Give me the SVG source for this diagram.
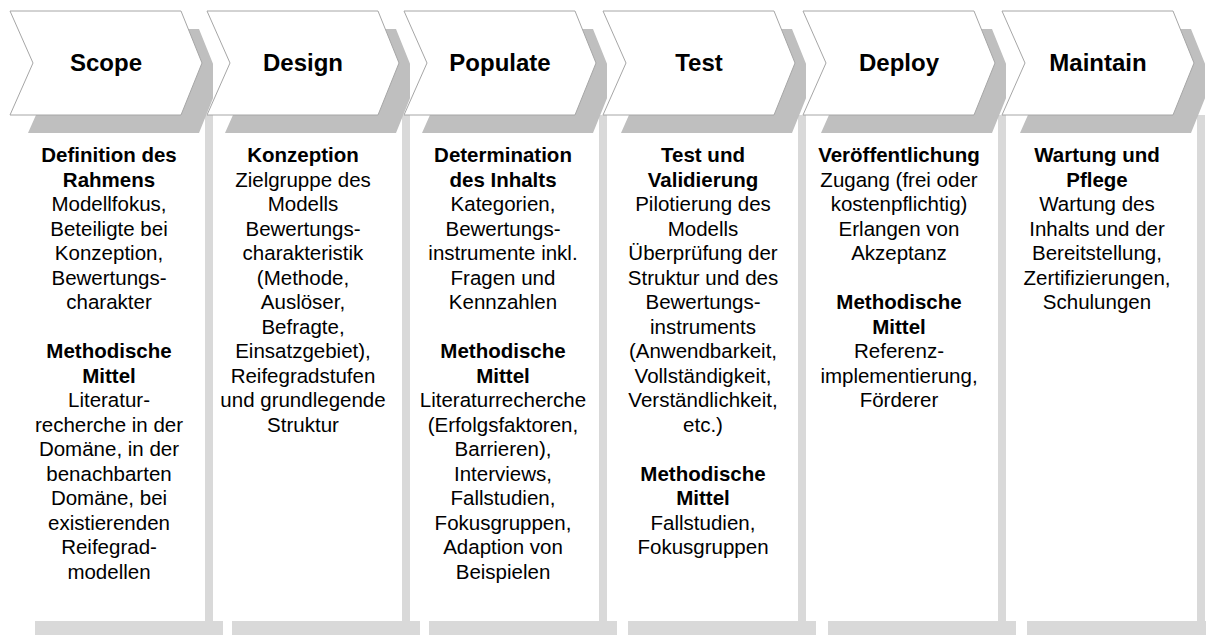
<svg xmlns="http://www.w3.org/2000/svg" width="1206" height="635" viewBox="0 0 1206 635">
<style>
.bar{fill:#d9d9d9}
.sh{fill:#bfbfbf}
.chev{fill:#ffffff;stroke:#a6a6a6;stroke-width:1}
.hd{font-family:"Liberation Sans",Arial,sans-serif;font-weight:bold;font-size:24px;fill:#000;text-anchor:middle}
.bd{font-family:"Liberation Sans",Arial,sans-serif;font-size:20.5px;fill:#000;text-anchor:middle}
.b{font-weight:bold}
</style>
<defs>
<g id="col">
<rect class="bar" x="195" y="115" width="8" height="506"/>
<rect class="bar" x="25" y="621" width="188" height="14"/>
<polygon class="sh" points="18,29 189,29 203,63.7 203,98.3 189,133 18,133 41,81"/>
<polygon class="chev" points="0,11 171,11 192,63 171,115 0,115 23,63"/>
</g>
</defs>
<g id="connectors"></g>
<g id="scope">
<use href="#col" x="10"/>
<text class="hd" x="106" y="71">Scope</text>
<text class="bd" x="109" y="162"><tspan class="b" x="109">Definition des</tspan><tspan class="b" x="109" dy="24.5">Rahmens</tspan><tspan x="109" dy="24.5">Modellfokus,</tspan><tspan x="109" dy="24.5">Beteiligte bei</tspan><tspan x="109" dy="24.5">Konzeption,</tspan><tspan x="109" dy="24.5">Bewertungs-</tspan><tspan x="109" dy="24.5">charakter</tspan><tspan class="b" x="109" dy="49">Methodische</tspan><tspan class="b" x="109" dy="24.5">Mittel</tspan><tspan x="109" dy="24.5">Literatur-</tspan><tspan x="109" dy="24.5">recherche in der</tspan><tspan x="109" dy="24.5">Domäne, in der</tspan><tspan x="109" dy="24.5">benachbarten</tspan><tspan x="109" dy="24.5">Domäne, bei</tspan><tspan x="109" dy="24.5">existierenden</tspan><tspan x="109" dy="24.5">Reifegrad-</tspan><tspan x="109" dy="24.5">modellen</tspan></text>
</g>
<g id="design">
<use href="#col" x="207"/>
<text class="hd" x="303" y="71">Design</text>
<text class="bd" x="303" y="162"><tspan class="b" x="303">Konzeption</tspan><tspan x="303" dy="24.5">Zielgruppe des</tspan><tspan x="303" dy="24.5">Modells</tspan><tspan x="303" dy="24.5">Bewertungs-</tspan><tspan x="303" dy="24.5">charakteristik</tspan><tspan x="303" dy="24.5">(Methode,</tspan><tspan x="303" dy="24.5">Auslöser,</tspan><tspan x="303" dy="24.5">Befragte,</tspan><tspan x="303" dy="24.5">Einsatzgebiet),</tspan><tspan x="303" dy="24.5">Reifegradstufen</tspan><tspan x="303" dy="24.5">und grundlegende</tspan><tspan x="303" dy="24.5">Struktur</tspan></text>
</g>
<g id="populate">
<use href="#col" x="404"/>
<text class="hd" x="500" y="71">Populate</text>
<text class="bd" x="503" y="162"><tspan class="b" x="503">Determination</tspan><tspan class="b" x="503" dy="24.5">des Inhalts</tspan><tspan x="503" dy="24.5">Kategorien,</tspan><tspan x="503" dy="24.5">Bewertungs-</tspan><tspan x="503" dy="24.5">instrumente inkl.</tspan><tspan x="503" dy="24.5">Fragen und</tspan><tspan x="503" dy="24.5">Kennzahlen</tspan><tspan class="b" x="503" dy="49">Methodische</tspan><tspan class="b" x="503" dy="24.5">Mittel</tspan><tspan x="503" dy="24.5">Literaturrecherche</tspan><tspan x="503" dy="24.5">(Erfolgsfaktoren,</tspan><tspan x="503" dy="24.5">Barrieren),</tspan><tspan x="503" dy="24.5">Interviews,</tspan><tspan x="503" dy="24.5">Fallstudien,</tspan><tspan x="503" dy="24.5">Fokusgruppen,</tspan><tspan x="503" dy="24.5">Adaption von</tspan><tspan x="503" dy="24.5">Beispielen</tspan></text>
</g>
<g id="test">
<use href="#col" x="603"/>
<text class="hd" x="699" y="71">Test</text>
<text class="bd" x="703" y="162"><tspan class="b" x="703">Test und</tspan><tspan class="b" x="703" dy="24.5">Validierung</tspan><tspan x="703" dy="24.5">Pilotierung des</tspan><tspan x="703" dy="24.5">Modells</tspan><tspan x="703" dy="24.5">Überprüfung der</tspan><tspan x="703" dy="24.5">Struktur und des</tspan><tspan x="703" dy="24.5">Bewertungs-</tspan><tspan x="703" dy="24.5">instruments</tspan><tspan x="703" dy="24.5">(Anwendbarkeit,</tspan><tspan x="703" dy="24.5">Vollständigkeit,</tspan><tspan x="703" dy="24.5">Verständlichkeit,</tspan><tspan x="703" dy="24.5">etc.)</tspan><tspan class="b" x="703" dy="49">Methodische</tspan><tspan class="b" x="703" dy="24.5">Mittel</tspan><tspan x="703" dy="24.5">Fallstudien,</tspan><tspan x="703" dy="24.5">Fokusgruppen</tspan></text>
</g>
<g id="deploy">
<use href="#col" x="803"/>
<text class="hd" x="899" y="71">Deploy</text>
<text class="bd" x="899" y="162"><tspan class="b" x="899">Veröffentlichung</tspan><tspan x="899" dy="24.5">Zugang (frei oder</tspan><tspan x="899" dy="24.5">kostenpflichtig)</tspan><tspan x="899" dy="24.5">Erlangen von</tspan><tspan x="899" dy="24.5">Akzeptanz</tspan><tspan class="b" x="899" dy="49">Methodische</tspan><tspan class="b" x="899" dy="24.5">Mittel</tspan><tspan x="899" dy="24.5">Referenz-</tspan><tspan x="899" dy="24.5">implementierung,</tspan><tspan x="899" dy="24.5">Förderer</tspan></text>
</g>
<g id="maintain">
<use href="#col" x="1002"/>
<text class="hd" x="1098" y="71">Maintain</text>
<text class="bd" x="1097" y="162"><tspan class="b" x="1097">Wartung und</tspan><tspan class="b" x="1097" dy="24.5">Pflege</tspan><tspan x="1097" dy="24.5">Wartung des</tspan><tspan x="1097" dy="24.5">Inhalts und der</tspan><tspan x="1097" dy="24.5">Bereitstellung,</tspan><tspan x="1097" dy="24.5">Zertifizierungen,</tspan><tspan x="1097" dy="24.5">Schulungen</tspan></text>
</g>
</svg>
